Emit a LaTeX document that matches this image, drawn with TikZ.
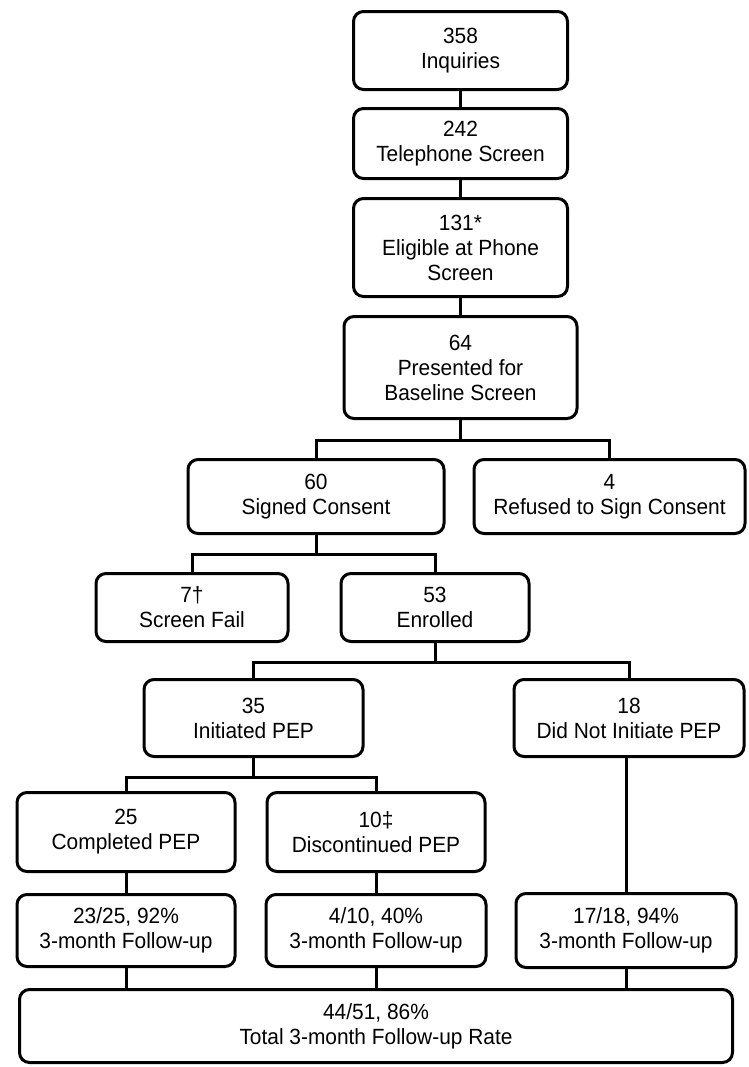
\documentclass[tikz,border=0pt]{standalone}
\usepackage{fontspec}
\setmainfont{Liberation Sans}[FakeStretch=0.95]
\usepackage{tikz}
\usetikzlibrary{positioning}

\begin{document}
\begin{tikzpicture}[
  box/.style={draw, line width=1.5pt, rounded corners=5pt, align=center, inner sep=1pt,
    font=\fontsize{11}{12.5}\selectfont},
  link/.style={line width=1.5pt},
  node distance=8pt and 14pt
]
  \useasboundingbox (0,0) rectangle (374.5pt,-533.5pt);

  \node[box, minimum width=107pt, minimum height=39pt] (inquiry) at (230.25pt,-25.25pt) {358\\Inquiries};
  \node[box, minimum width=107pt, minimum height=35pt, below=8pt of inquiry] (phone) {242\\Telephone Screen};
  \node[box, minimum width=107pt, minimum height=49pt, below=8.5pt of phone] (eligible) {131*\\Eligible at Phone\\Screen};
  \node[box, minimum width=116.5pt, minimum height=51pt, below=8.5pt of eligible] (baseline) {64\\Presented for\\Baseline Screen};
  \node[box, minimum width=128pt, minimum height=37pt, below=19pt of baseline, xshift=-72.25pt] (consent) {60\\Signed Consent};
  \node[box, minimum width=135.5pt, minimum height=37pt, right=13.5pt of consent] (refused) {4\\Refused to Sign Consent};
  \node[box, minimum width=96pt, minimum height=34pt, below=18.5pt of consent, xshift=-62pt] (fail) {7\textdagger\\Screen Fail};
  \node[box, minimum width=94pt, minimum height=34pt, right=25pt of fail] (enrolled) {53\\Enrolled};
  \node[box, minimum width=109.5pt, minimum height=38.5pt, below=17.5pt of enrolled, xshift=-90.75pt] (initpep) {35\\Initiated PEP};
  \node[box, minimum width=115pt, minimum height=38.5pt, right=74pt of initpep] (noinit) {18\\Did Not Initiate PEP};
  \node[box, minimum width=109pt, minimum height=39.5pt, below=16.5pt of initpep, xshift=-63.75pt] (completed) {25\\Completed PEP};
  \node[box, minimum width=109pt, minimum height=39.5pt, right=14.5pt of completed] (stopped) {10\textdaggerdbl\\Discontinued PEP};
  \node[box, minimum width=109pt, minimum height=36pt, below=10pt of completed] (followA) {23/25, 92\%\\3-month Follow-up};
  \node[box, minimum width=110pt, minimum height=36pt, below=10pt of stopped] (followB) {4/10, 40\%\\3-month Follow-up};
  \node[box, minimum width=110pt, minimum height=37pt, right=13.5pt of followB] (followC) {17/18, 94\%\\3-month Follow-up};
  \node[box, minimum width=356.5pt, minimum height=36.5pt, below=10pt of followB] (total) {44/51, 86\%\\Total 3-month Follow-up Rate};

  \draw[link] (inquiry) -- (phone);
  \draw[link] (phone) -- (eligible);
  \draw[link] (eligible) -- (baseline);
  \draw[link] (baseline.south) -- ++(0,-10pt) -| (consent.north);
  \draw[link] (baseline.south) -- ++(0,-10pt) -| (refused.north);
  \draw[link] (consent.south) -- ++(0,-9.5pt) -| (fail.north);
  \draw[link] (consent.south) -- ++(0,-9.5pt) -| (enrolled.north);
  \draw[link] (enrolled.south) -- ++(0,-9.5pt) -| (initpep.north);
  \draw[link] (enrolled.south) -- ++(0,-9.5pt) -| (noinit.north);
  \draw[link] (initpep.south) -- ++(0,-9.5pt) -| (completed.north);
  \draw[link] (initpep.south) -- ++(0,-9.5pt) -| (stopped.north);
  \draw[link] (completed) -- (followA);
  \draw[link] (stopped) -- (followB);
  \draw[link] (followC.north |- noinit.south) -- (followC.north);
  \draw[link] (followA.south) -- (followA.south |- total.north);
  \draw[link] (followB.south) -- (followB.south |- total.north);
  \draw[link] (followC.south) -- (followC.south |- total.north);
\end{tikzpicture}
\end{document}
